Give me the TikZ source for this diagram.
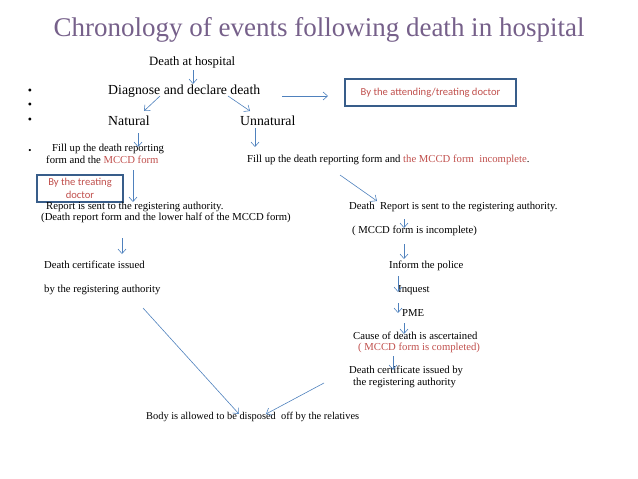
\documentclass[tikz,border=0pt]{standalone}
\usepackage{fontspec}
\setmainfont{Liberation Serif}
\newfontfamily\boxfont{Carlito}
\usetikzlibrary{arrows.meta}
\definecolor{titlecol}{HTML}{76608A}
\definecolor{redtxt}{HTML}{C0504D}
\definecolor{arrcol}{HTML}{4F81BD}
\definecolor{boxcol}{HTML}{385D8A}
\tikzset{
  txt/.style={anchor=west,inner sep=0pt,font=\fontsize{10.7}{12}\selectfont},
  big/.style={anchor=west,inner sep=0pt,font=\fontsize{13.8}{15}\selectfont},
  bul/.style={anchor=center,inner sep=0pt,font=\fontsize{12}{14}\selectfont},
  arr/.style={draw=arrcol,line width=0.6pt,-{Straight Barb[length=4.5pt,width=8pt]}},
  notebox/.style={draw=boxcol,line width=1.3pt,inner sep=0pt,text=redtxt,font=\boxfont\fontsize{10.6}{12.5}\selectfont,align=center}
}
\begin{document}
\begin{tikzpicture}[x=1pt,y=-1pt]
\useasboundingbox (0,0) rectangle (638,479);
% title
\node[inner sep=0pt,text=titlecol,font=\fontsize{27}{30}\selectfont] (title) at (319,30) {Chronology of events following death in hospital};
% bullets
\node[bul] (b1) at (30,92) {•};
\node[bul] (b2) at (30,106) {•};
\node[bul] (b3) at (30,121) {•};
\node[bul,font=\fontsize{9}{10}\selectfont] (b4) at (30,151) {•};
% top
\node[txt,font=\fontsize{12.7}{14}\selectfont] (death) at (149,62) {Death at hospital};
\node[big] (diag) at (108,91) {Diagnose and declare death};
\node[big] (nat) at (108,121) {Natural};
\node[big] (unnat) at (240,121) {Unnatural};
\node[notebox,minimum width=171pt,minimum height=27pt] (attbox) at (430.5,92.5) {By the attending/treating doctor};
% natural branch
\node[txt] (fill1a) at (52,149) {Fill up the death reporting};
\node[txt] (fill1b) at (46,160) {form and the \textcolor{redtxt}{MCCD form}};
\node[notebox,minimum width=86pt,minimum height=27pt] (treatbox) at (80,188.5) {By the treating\\doctor};
\node[txt] (rep1a) at (46,207) {Report is sent to the registering authority.};
\node[txt] (rep1b) at (41,218) {(Death report form and the lower half of the MCCD form)};
\node[txt] (cert1a) at (44,265) {Death certificate issued};
\node[txt] (cert1b) at (44,290) {by the registering authority};
% unnatural branch
\node[txt] (fill2) at (247,160) {Fill up the death reporting form and \textcolor{redtxt}{the MCCD form\ \ incomplete}.};
\node[txt] (rep2a) at (349,207) {Death\ \ Report is sent to the registering authority.};
\node[txt] (rep2b) at (352,231) {( MCCD form is incomplete)};
\node[txt] (police) at (389,266) {Inform the police};
\node[txt] (inq) at (398,290) {Inquest};
\node[txt] (pme) at (402,313) {PME};
\node[txt] (cause) at (353,336) {Cause of death is ascertained};
\node[txt,text=redtxt] (caused) at (358,348) {( MCCD form is completed)};
\node[txt] (cert2a) at (349,371) {Death certificate issued by};
\node[txt] (cert2b) at (353,383) {the registering authority};
\node[txt,font=\fontsize{10.4}{12}\selectfont] (body) at (146,417) {Body is allowed to be disposed\ \ off by the relatives};
% connector end points
\coordinate (a1s) at (193,70);  \coordinate (a1e) at (193,84);
\coordinate (a2s) at (282,96);  \coordinate (a2e) at (328,96);
\coordinate (a3s) at (160,96);  \coordinate (a3e) at (144,111);
\coordinate (a4s) at (228,96);  \coordinate (a4e) at (250,111);
\coordinate (a5s) at (138,133); \coordinate (a5e) at (138,147);
\coordinate (a6s) at (255,128); \coordinate (a6e) at (255,147);
\coordinate (a7s) at (133,170); \coordinate (a7e) at (133,202);
\coordinate (a8s) at (340,175); \coordinate (a8e) at (377,201);
\coordinate (a9s) at (404,219); \coordinate (a9e) at (404,228);
\coordinate (a10s) at (404,244); \coordinate (a10e) at (404,259);
\coordinate (a11s) at (398,276); \coordinate (a11e) at (398,292);
\coordinate (a12s) at (398,303); \coordinate (a12e) at (398,313);
\coordinate (a13s) at (404,323); \coordinate (a13e) at (404,334);
\coordinate (a14s) at (393,356); \coordinate (a14e) at (393,370);
\coordinate (a15s) at (122,238); \coordinate (a15e) at (122,254);
\coordinate (a16s) at (143,308); \coordinate (a16e) at (239,414);
\coordinate (a17s) at (324,383); \coordinate (a17e) at (266,414);
\foreach \i in {1,...,17} \draw[arr] (a\i s) -- (a\i e);
\end{tikzpicture}
\end{document}
